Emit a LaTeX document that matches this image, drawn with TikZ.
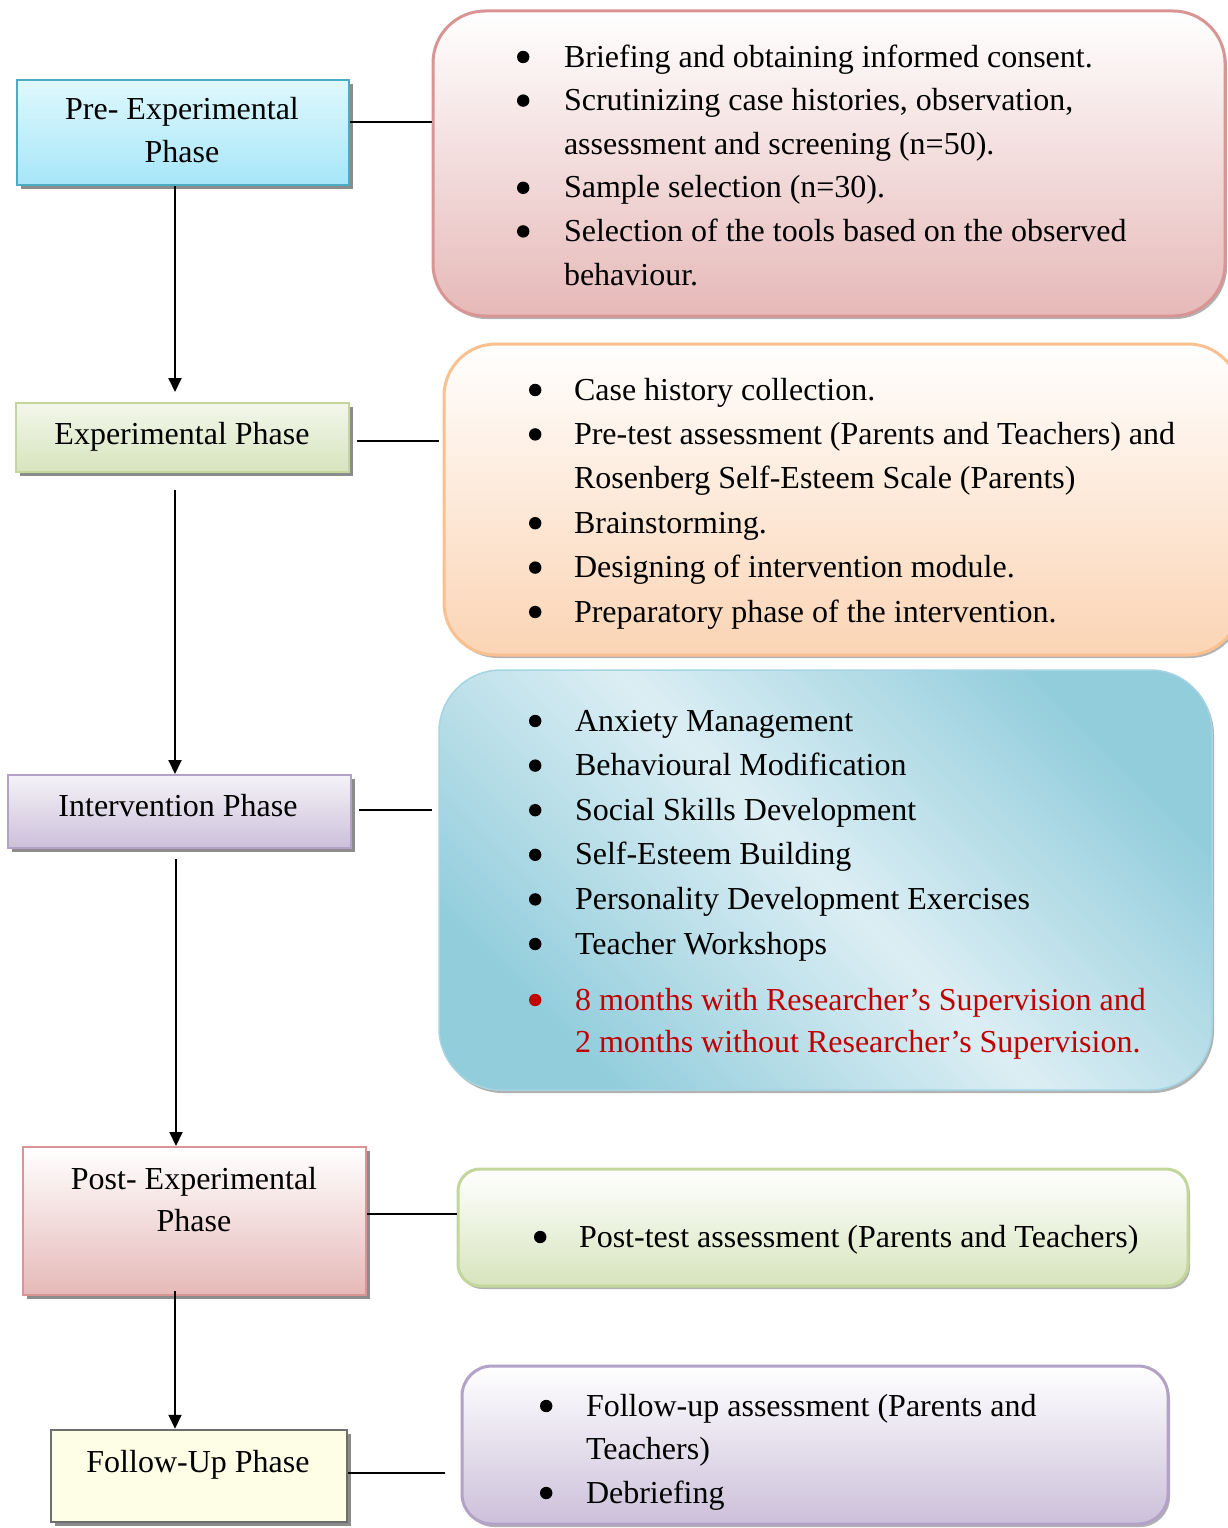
\documentclass[tikz,border=0pt]{standalone}
\usepackage{fontspec}
\setmainfont{Liberation Serif}
\usetikzlibrary{shadows,arrows.meta}
\definecolor{cyanT}{RGB}{224,248,253}
\definecolor{cyanB}{RGB}{166,230,248}
\definecolor{cyanD}{RGB}{75,172,198}
\definecolor{grnB}{RGB}{215,228,189}
\definecolor{grnD}{RGB}{195,214,155}
\definecolor{purB}{RGB}{204,192,218}
\definecolor{purD}{RGB}{179,162,199}
\definecolor{redB}{RGB}{230,185,184}
\definecolor{redD}{RGB}{217,149,148}
\definecolor{orgB}{RGB}{251,212,180}
\definecolor{orgD}{RGB}{250,192,144}
\definecolor{bluDk}{RGB}{146,205,220}
\definecolor{bluLt}{RGB}{220,238,244}
\definecolor{bluD}{RGB}{165,212,226}
\definecolor{yelF}{RGB}{254,254,230}
\definecolor{grayD}{RGB}{110,110,110}
\definecolor{wordred}{RGB}{192,0,0}
\newcommand\bdot[1][black]{\tikz[baseline=-10pt]\fill[#1] (0pt,0pt) circle (6.2pt);}
\newcommand\bu[2][black]{\makebox[#2][l]{\bdot[#1]}}
\tikzset{
  phasebox/.style={rectangle, inner sep=0pt, line width=2pt,
    general shadow={fill=black!45, shadow xshift=4pt, shadow yshift=-4pt}},
  infobox/.style={rectangle, inner sep=0pt, line width=3pt,
    general shadow={fill=black!30, shadow xshift=2pt, shadow yshift=-3pt}},
  phasetext/.style={inner sep=0pt, anchor=base, font=\fontsize{32}{43}\selectfont},
  bullettext/.style={inner sep=0pt, anchor=base west, font=\fontsize{32}{44}\selectfont},
  conn/.style={line width=2pt},
  arr/.style={line width=2pt, -{Triangle[length=14pt,width=13pt]}}
}
\begin{document}
\begin{tikzpicture}[x=1pt,y=1pt]
\fill[white] (0,0) rectangle (1227,-1528);
\useasboundingbox (0,0) rectangle (1227,-1528);

% right info boxes
\node[infobox, rounded corners=52pt, draw=redD, top color=white, bottom color=redB,
  minimum width=792pt, minimum height=305pt] (A) at (829,-163.5) {};
\node[infobox, rounded corners=52pt, draw=orgD, top color=white, bottom color=orgB,
  general shadow={fill=none}, minimum width=796pt, minimum height=311pt] (B) at (842,-499.5) {};
\node[infobox, rounded corners=62pt, draw=bluD, line width=1.5pt, top color=bluDk, bottom color=bluDk,
  middle color=bluLt, shading angle=-45, minimum width=773pt, minimum height=420pt] (C) at (825.5,-880) {};
\node[infobox, rounded corners=22pt, draw=grnD, top color=white, bottom color=grnB,
  minimum width=730pt, minimum height=117pt] (D) at (823,-1227.5) {};
\node[infobox, rounded corners=30pt, draw=purD, top color=white, bottom color=purB,
  minimum width=706pt, minimum height=158pt] (E) at (815,-1445) {};

% left phase boxes
\node[phasebox, draw=cyanD, top color=cyanT, bottom color=cyanB,
  minimum width=332pt, minimum height=105pt] (L1) at (183,-132.5) {};
\node[phasebox, draw=grnD, top color=white!70!grnB, bottom color=grnB,
  minimum width=333pt, minimum height=69pt] (L2) at (182.5,-437.5) {};
\node[phasebox, draw=purD, top color=white!80!purB, bottom color=purB,
  minimum width=343pt, minimum height=73pt] (L3) at (179.5,-811.5) {};
\node[phasebox, draw=redD, top color=white, bottom color=redB,
  minimum width=343pt, minimum height=148pt] (L4) at (194.5,-1221) {};
\node[phasebox, draw=grayD, line width=2.5pt, fill=yelF,
  minimum width=296pt, minimum height=92pt] (L5) at (199,-1476) {};

% phase labels
\node[phasetext] (t1) at (182,-119) {\begin{tabular}[t]{@{}c@{}}Pre- Experimental\\Phase\end{tabular}};
\node[phasetext] (t2) at (182,-444) {Experimental Phase};
\node[phasetext] (t3) at (178,-816) {Intervention Phase};
\node[phasetext] (t4) at (194,-1189) {\begin{tabular}[t]{@{}c@{}}Post- Experimental\\[-1pt]Phase\end{tabular}};
\node[phasetext] (t5) at (198,-1472) {Follow-Up Phase};

% bullet texts
\node[bullettext, font=\fontsize{32}{43.6}\selectfont] (ta) at (516.8,-67) {\begin{tabular}[t]{@{}l@{}l@{}}
\bu{47pt} & Briefing and obtaining informed consent.\\
\bu{47pt} & Scrutinizing case histories, observation,\\
 & assessment and screening (n=50).\\
\bu{47pt} & Sample selection (n=30).\\
\bu{47pt} & Selection of the tools based on the observed\\
 & behaviour.
\end{tabular}};
\node[bullettext, font=\fontsize{32}{44.4}\selectfont] (tb) at (528.8,-400) {\begin{tabular}[t]{@{}l@{}l@{}}
\bu{45pt} & Case history collection.\\
\bu{45pt} & Pre-test assessment (Parents and Teachers) and\\
 & Rosenberg Self-Esteem Scale (Parents)\\
\bu{45pt} & Brainstorming.\\
\bu{45pt} & Designing of intervention module.\\
\bu{45pt} & Preparatory phase of the intervention.
\end{tabular}};
\node[bullettext, font=\fontsize{32}{44.6}\selectfont] (tc) at (528.8,-731) {\begin{tabular}[t]{@{}l@{}l@{}}
\bu{46pt} & Anxiety Management\\
\bu{46pt} & Behavioural Modification\\
\bu{46pt} & Social Skills Development\\
\bu{46pt} & Self-Esteem Building\\
\bu{46pt} & Personality Development Exercises\\
\bu{46pt} & Teacher Workshops\\[11.4pt]
\bu[wordred]{46pt} & \textcolor{wordred}{8 months with Researcher’s Supervision and}\\[-2.6pt]
 & \textcolor{wordred}{2 months without Researcher’s Supervision.}
\end{tabular}};
\node[bullettext] (td) at (533.8,-1247) {\begin{tabular}[t]{@{}l@{}l@{}}
\bu{45pt} & Post-test assessment (Parents and Teachers)
\end{tabular}};
\node[bullettext, font=\fontsize{32}{43.5}\selectfont] (te) at (539.8,-1416) {\begin{tabular}[t]{@{}l@{}l@{}}
\bu{46pt} & Follow-up assessment (Parents and\\
 & Teachers)\\
\bu{46pt} & Debriefing
\end{tabular}};

% vertical arrows
\draw[arr] ([xshift=-8pt]L1.south) -- ([xshift=-7.5pt,yshift=10pt]L2.north);
\draw[arr] ([xshift=-7.5pt,yshift=-17pt]L2.south) -- ([xshift=-4.5pt]L3.north);
\draw[arr] ([xshift=-3.5pt,yshift=-10pt]L3.south) -- ([xshift=-18.5pt]L4.north);
\draw[arr] ([xshift=-19.5pt,yshift=5pt]L4.south) -- ([xshift=-24pt]L5.north);

% horizontal connectors
\draw[conn] ([yshift=10.5pt]L1.east) -- ([yshift=41.5pt]A.west);
\draw[conn] ([xshift=7pt,yshift=-3.5pt]L2.east) -- ([xshift=-4pt,yshift=58.5pt]B.west);
\draw[conn] ([xshift=7pt,yshift=1.5pt]L3.east) -- ([xshift=-6pt,yshift=70pt]C.west);
\draw[conn] ([yshift=7pt]L4.east) -- ([yshift=13.5pt]D.west);
\draw[conn] ([yshift=3pt]L5.east) -- ([xshift=-16pt,yshift=-28pt]E.west);
\end{tikzpicture}
\end{document}
